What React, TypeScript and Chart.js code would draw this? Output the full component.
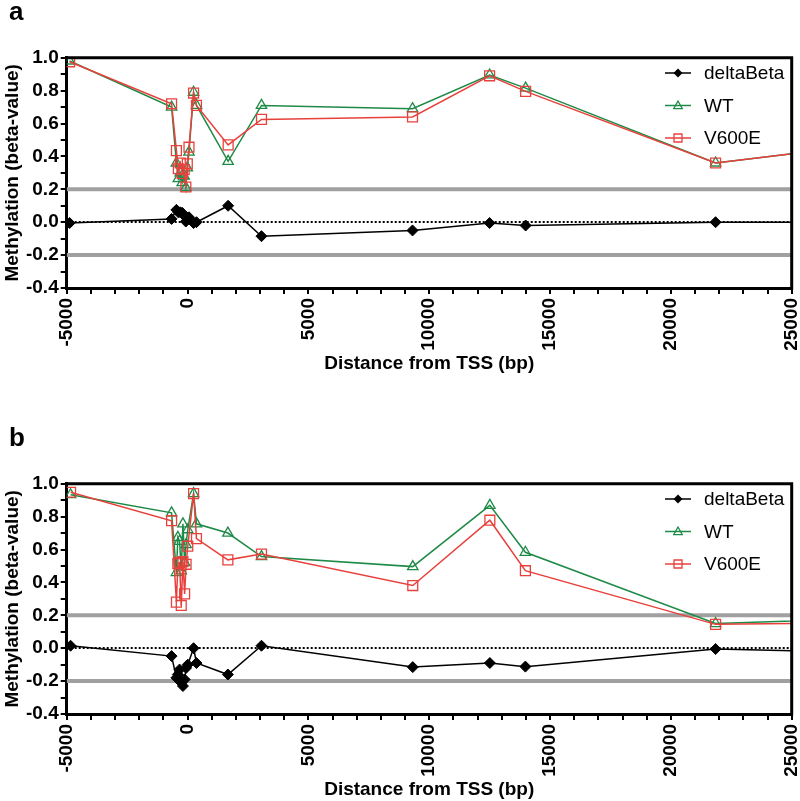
import React, { useEffect, useRef } from 'react';
import { Chart, registerables } from 'chart.js';
Chart.register(...registerables);

const FONT = '"Liberation Sans", Arial, Helvetica, sans-serif';
const GREEN = '#1f8a47';
const RED = '#e8413c';
const GRAY = '#a0a0a0';

// Panel a
const distA = [-4880, -660, -460, -380, -300, -220, -140, -70, -10, 60, 250, 370, 1680, 3060, 9310, 12500, 13990, 21850, 28000];
const wtA = [0.98, 0.70, 0.36, 0.265, 0.30, 0.24, 0.28, 0.21, 0.33, 0.426, 0.79, 0.71, 0.37, 0.71, 0.69, 0.895, 0.815, 0.36, 0.47];
const v600eA = [0.975, 0.72, 0.435, 0.325, 0.36, 0.297, 0.32, 0.214, 0.355, 0.456, 0.785, 0.71, 0.47, 0.625, 0.64, 0.89, 0.795, 0.36, 0.47];
const deltaA = [-0.005, 0.02, 0.075, 0.06, 0.06, 0.057, 0.04, 0.004, 0.025, 0.03, -0.005, 0.0, 0.10, -0.085, -0.05, -0.005, -0.02, 0.0, 0.0];

// Panel b
const distB = [-4840, -660, -460, -400, -330, -260, -190, -120, -60, 10, 250, 370, 1670, 3060, 9320, 12510, 13980, 21850, 28000];
const wtB = [0.933, 0.823, 0.46, 0.674, 0.65, 0.47, 0.756, 0.52, 0.63, 0.72, 0.94, 0.756, 0.70, 0.557, 0.496, 0.868, 0.583, 0.15, 0.18];
const v600eB = [0.948, 0.775, 0.28, 0.514, 0.52, 0.26, 0.526, 0.33, 0.51, 0.62, 0.94, 0.666, 0.537, 0.572, 0.381, 0.778, 0.471, 0.145, 0.155];
const deltaB = [0.015, -0.048, -0.18, -0.16, -0.13, -0.21, -0.23, -0.19, -0.12, -0.10, 0.0, -0.09, -0.16, 0.015, -0.115, -0.09, -0.112, -0.005, -0.025];

const seriesNames = ['deltaBeta', 'WT', 'V600E'];
const thresholds = [0.2, -0.2];
const xMin = -5000;
const xMax = 25000;
const yMin = -0.4;
const yMax = 1.0;

const toXY = (xs: number[], ys: number[]) => xs.map((x, i) => ({ x, y: ys[i] }));

function drawMarker(ctx: CanvasRenderingContext2D, style: string, x: number, y: number, r: number, color: string) {
  ctx.beginPath();
  if (style === 'diamond') {
    ctx.moveTo(x, y - r); ctx.lineTo(x + r, y); ctx.lineTo(x, y + r); ctx.lineTo(x - r, y); ctx.closePath();
    ctx.fillStyle = color; ctx.fill();
  } else if (style === 'triangle') {
    ctx.moveTo(x, y - r); ctx.lineTo(x + r * 0.95, y + r * 0.7); ctx.lineTo(x - r * 0.95, y + r * 0.7); ctx.closePath();
    ctx.strokeStyle = color; ctx.lineWidth = 1.3; ctx.stroke();
  } else {
    ctx.rect(x - r, y - r, 2 * r, 2 * r);
    ctx.strokeStyle = color; ctx.lineWidth = 1.3; ctx.stroke();
  }
}

const decorPlugin = {
  id: 'decor',
  beforeDatasetsDraw(chart: any) {
    const { ctx, chartArea, scales } = chart;
    const y = scales.y;
    ctx.save();
    ctx.beginPath();
    ctx.rect(chartArea.left, chartArea.top, chartArea.right - chartArea.left, chartArea.bottom - chartArea.top);
    ctx.clip();
    ctx.strokeStyle = GRAY;
    ctx.lineWidth = 4;
    for (const v of thresholds) {
      const py = y.getPixelForValue(v);
      ctx.beginPath(); ctx.moveTo(chartArea.left, py); ctx.lineTo(chartArea.right, py); ctx.stroke();
    }
    const p0 = Math.round(y.getPixelForValue(0));
    ctx.setLineDash([2, 2]);
    ctx.strokeStyle = '#000';
    ctx.lineWidth = 2;
    ctx.beginPath(); ctx.moveTo(chartArea.left, p0); ctx.lineTo(chartArea.right, p0); ctx.stroke();
    ctx.restore();
  },
  afterDraw(chart: any, _args: any, opts: any) {
    const { ctx, chartArea } = chart;
    ctx.save();
    // frame top/right
    ctx.strokeStyle = '#000';
    ctx.lineWidth = 3;
    ctx.beginPath();
    ctx.moveTo(chartArea.left - 1.5, chartArea.top);
    ctx.lineTo(chartArea.right, chartArea.top);
    ctx.lineTo(chartArea.right, chartArea.bottom + 1.5);
    ctx.stroke();
    // legend
    const items = [
      { label: seriesNames[0], color: '#000', style: 'diamond', r: 4.5 },
      { label: seriesNames[1], color: GREEN, style: 'triangle', r: 4.5 },
      { label: seriesNames[2], color: RED, style: 'rect', r: 4 },
    ];
    const rows = [73, 105.5, 138];
    items.forEach((it, i) => {
      const yy = rows[i];
      ctx.strokeStyle = it.color;
      ctx.lineWidth = 1.5;
      ctx.beginPath(); ctx.moveTo(665, yy); ctx.lineTo(691, yy); ctx.stroke();
      drawMarker(ctx, it.style, 678, yy, it.r, it.color);
      ctx.fillStyle = '#000';
      ctx.font = `19px ${FONT}`;
      ctx.textAlign = 'left';
      ctx.textBaseline = 'middle';
      ctx.fillText(it.label, 704, yy + 1);
    });
    // panel letter
    ctx.fillStyle = '#000';
    ctx.font = `bold 26px ${FONT}`;
    ctx.textAlign = 'left';
    ctx.textBaseline = 'alphabetic';
    ctx.fillText(opts.letter, 9, 19.5);
    ctx.restore();
  },
};

function Panel(props: { letter: string; dist: number[]; wt: number[]; v600e: number[]; delta: number[]; top: number }) {
  const ref = useRef<HTMLCanvasElement | null>(null);
  useEffect(() => {
    if (!ref.current) return;
    const tickFont = { family: FONT, size: 19, weight: 'bold' as const };
    const chart = new Chart(ref.current, {
      type: 'scatter',
      data: {
        datasets: [
          {
            label: seriesNames[0],
            data: toXY(props.dist, props.delta),
            showLine: true,
            borderColor: '#000',
            backgroundColor: '#000',
            borderWidth: 1.5,
            pointStyle: 'rectRot',
            pointRadius: 5.5,
            pointBorderWidth: 1,
            pointBackgroundColor: '#000',
            pointBorderColor: '#000',
            order: 1,
          },
          {
            label: seriesNames[1],
            data: toXY(props.dist, props.wt),
            showLine: true,
            borderColor: GREEN,
            backgroundColor: 'rgba(0,0,0,0)',
            borderWidth: 1.5,
            pointStyle: 'triangle',
            pointRadius: 6,
            pointBorderWidth: 1.3,
            pointBackgroundColor: 'rgba(0,0,0,0)',
            pointBorderColor: GREEN,
            order: 3,
          },
          {
            label: seriesNames[2],
            data: toXY(props.dist, props.v600e),
            showLine: true,
            borderColor: RED,
            backgroundColor: 'rgba(0,0,0,0)',
            borderWidth: 1.5,
            pointStyle: 'rect',
            pointRadius: 7,
            pointBorderWidth: 1.3,
            pointBackgroundColor: 'rgba(0,0,0,0)',
            pointBorderColor: RED,
            order: 2,
          },
        ],
      },
      options: {
        animation: false,
        responsive: false,
        devicePixelRatio: 1,
        layout: { padding: { left: 0, right: 8, top: 57.7, bottom: 0 } },
        plugins: {
          legend: { display: false },
          tooltip: { enabled: false },
          decor: { letter: props.letter },
        } as any,
        scales: {
          x: {
            type: 'linear',
            min: xMin,
            max: xMax,
            afterFit: (s: any) => { s.height = 112; s.paddingLeft = 0; s.paddingRight = 0; },
            border: { display: true, color: '#000', width: 3 },
            grid: { drawOnChartArea: false, drawTicks: true, tickLength: 6, lineWidth: 2, color: '#000', tickColor: '#000' },
            ticks: {
              stepSize: 1000,
              autoSkip: false,
              maxRotation: 90,
              minRotation: 90,
              padding: 4,
              color: '#000',
              font: tickFont,
              callback: (v: any) => (Number(v) % 5000 === 0 ? String(v) : ''),
            },
            title: {
              display: true,
              text: 'Distance from TSS (bp)',
              color: '#000',
              font: tickFont,
              padding: { top: 0, bottom: 25 },
            },
          },
          y: {
            type: 'linear',
            min: yMin,
            max: yMax,
            afterFit: (s: any) => { s.width = 66.7; s.paddingTop = 0; s.paddingBottom = 0; },
            border: { display: true, color: '#000', width: 3 },
            grid: { drawOnChartArea: false, drawTicks: true, tickLength: 6, lineWidth: 2, color: '#000', tickColor: '#000' },
            ticks: {
              stepSize: 0.1,
              autoSkip: false,
              padding: 2,
              color: '#000',
              font: tickFont,
              callback: (v: any) => {
                const k = Math.round(Number(v) * 10);
                return k % 2 === 0 ? (k / 10).toFixed(1) : '';
              },
            },
            title: {
              display: true,
              text: 'Methylation (beta-value)',
              color: '#000',
              font: tickFont,
              padding: { top: 1, bottom: 0 },
            },
          },
        },
      },
      plugins: [decorPlugin],
    } as any);
    return () => chart.destroy();
  }, []);
  return (
    <canvas
      ref={ref}
      width={800}
      height={400}
      style={{ position: 'absolute', left: 0, top: props.top, width: 800, height: 400 }}
    />
  );
}

export default function App() {
  return (
    <div style={{ position: 'absolute', left: 0, top: 0, width: 800, height: 801, overflow: 'hidden', background: '#fff' }}>
      <Panel letter="a" dist={distA} wt={wtA} v600e={v600eA} delta={deltaA} top={0} />
      <Panel letter="b" dist={distB} wt={wtB} v600e={v600eB} delta={deltaB} top={426} />
    </div>
  );
}
